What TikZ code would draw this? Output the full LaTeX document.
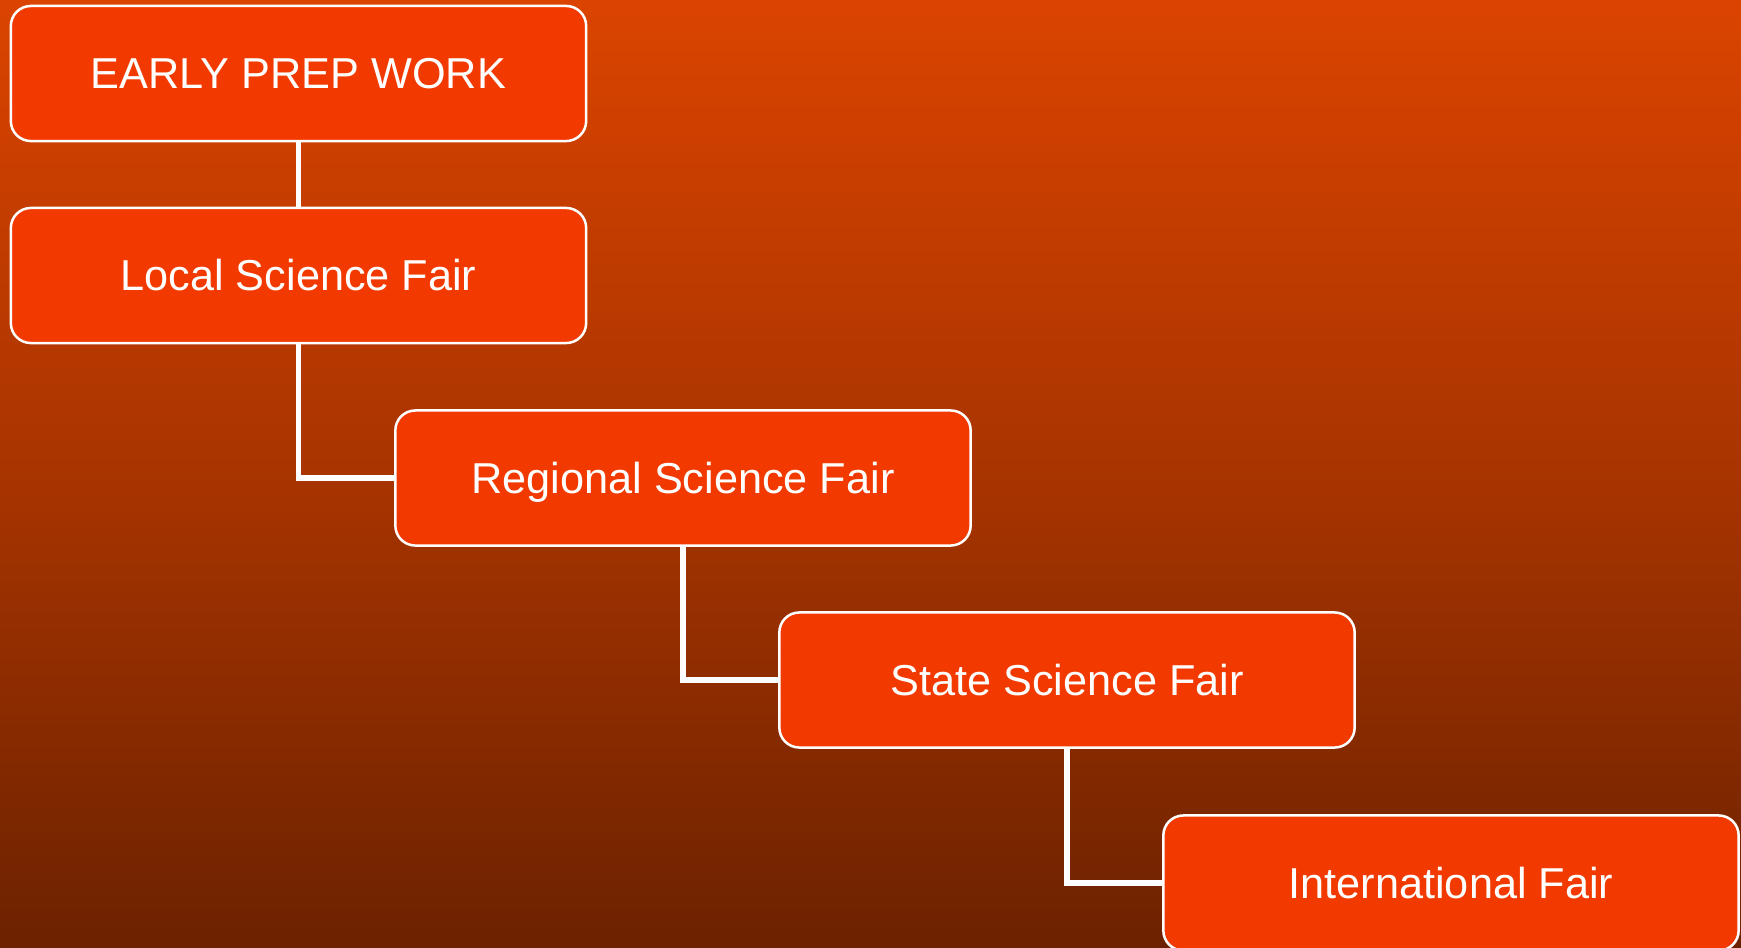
\documentclass[tikz,border=0pt]{standalone}
\usepackage{fontspec}
\setmainfont{Liberation Sans}
\usepackage{tikz}
\usetikzlibrary{positioning}

\definecolor{bgtop}{HTML}{DB4400}
\definecolor{bgmid}{HTML}{A83400}
\definecolor{bgbot}{HTML}{6C2200}
\definecolor{boxfill}{HTML}{F23A00}

\tikzset{
  fairbox/.style={draw=white, line width=0.025cm, fill=boxfill, rounded corners=0.2cm,
    minimum width=5.75cm, minimum height=1.35cm, inner sep=0pt,
    text height=8.8pt, text depth=0pt,
    text=white, font=\fontsize{12.3}{14}\selectfont},
  link/.style={draw=white, line width=0.055cm}
}

\begin{document}
\begin{tikzpicture}[x=0.01cm,y=-0.01cm]
\useasboundingbox (0,0) rectangle (1741,948);
\clip (0,0) rectangle (1741,948);
\shade[top color=bgtop, bottom color=bgbot, middle color=bgmid] (0,0) rectangle (1741,948);

\node[fairbox] (prep) at (298.5,73.5) {EARLY PREP WORK};
\node[fairbox] (local) at (298.5,275.5) {Local Science Fair};
\node[fairbox] (regional) at (683,478) {Regional Science Fair};
\node[fairbox] (state) at (1067,680) {State Science Fair};
\node[fairbox] (intl) at (1451,883) {International Fair};

\draw[link] (prep.south) -- (local.north);
\draw[link] (local.south) |- (regional.west);
\draw[link] (regional.south) |- (state.west);
\draw[link] (state.south) |- (intl.west);

\end{tikzpicture}
\end{document}
